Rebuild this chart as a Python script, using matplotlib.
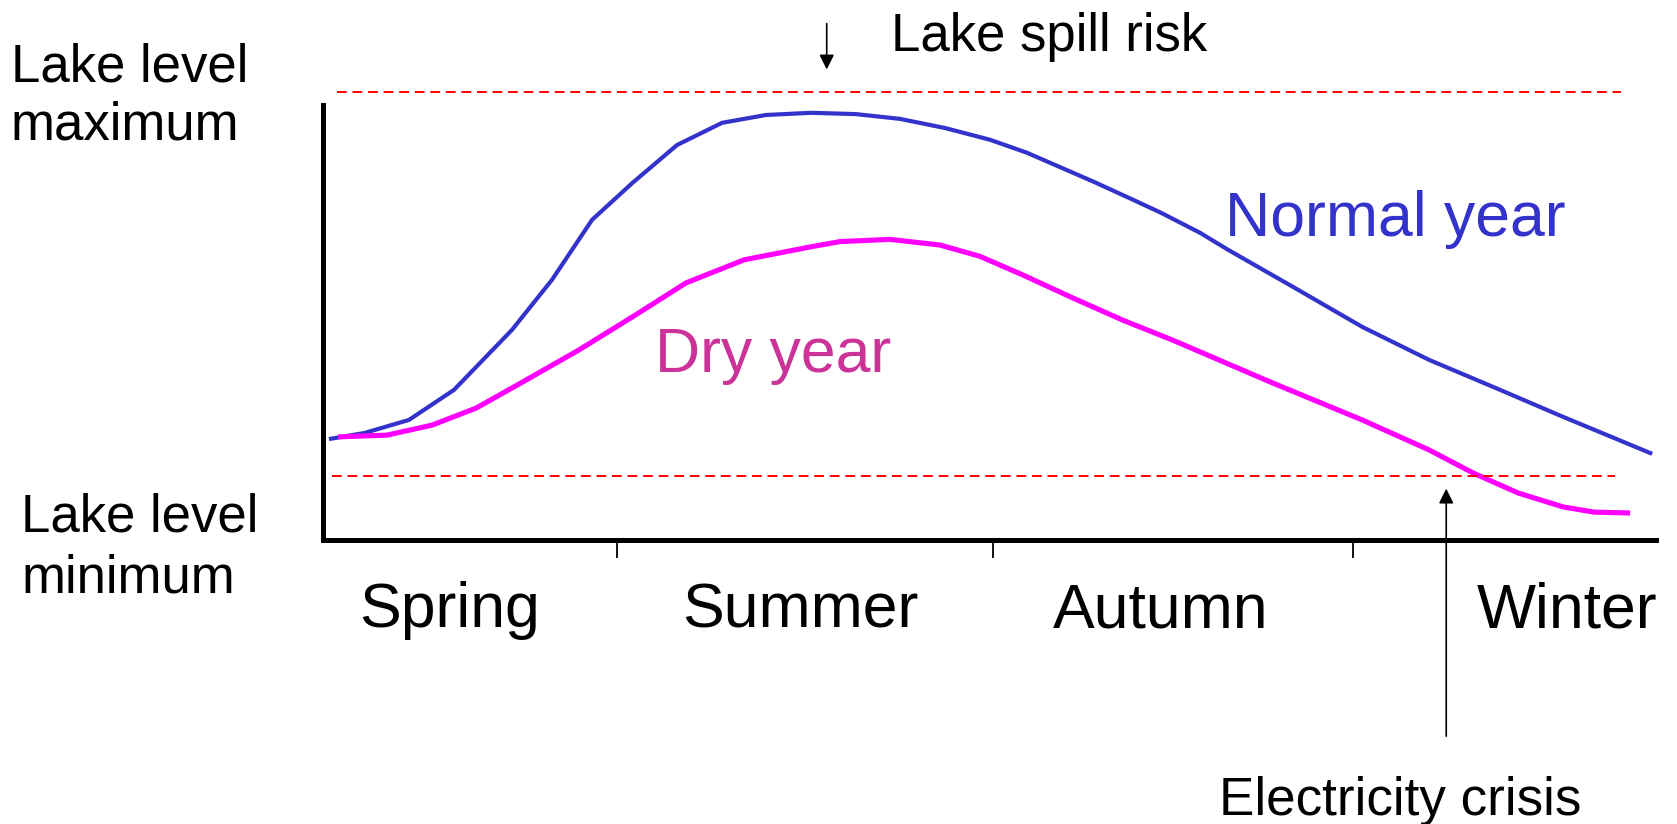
import matplotlib
matplotlib.use('Agg')
import matplotlib.pyplot as plt

plt.rcParams['font.family'] = ['Liberation Sans', 'DejaVu Sans']

# x in months from start of spring (0..12), y as fraction of lake range
normal_x = [0.054, 0.374, 0.774, 1.179, 1.701, 2.061, 2.422, 2.786, 3.187, 3.592,
            3.988, 4.393, 4.798, 5.194, 5.599, 6.004, 6.338, 6.941, 7.292, 7.544,
            7.895, 8.147, 8.750, 9.353, 9.956, 10.559, 11.162, 11.964]
normal_y = [0.232, 0.246, 0.276, 0.345, 0.483, 0.598, 0.736, 0.821, 0.908, 0.959,
            0.977, 0.982, 0.979, 0.968, 0.947, 0.920, 0.890, 0.823, 0.782, 0.752,
            0.706, 0.667, 0.579, 0.490, 0.414, 0.349, 0.283, 0.198]

dry_x = [0.135, 0.576, 0.981, 1.377, 1.782, 2.305, 2.786, 3.268, 3.790, 4.393,
         4.654, 5.104, 5.554, 5.914, 6.301, 6.752, 7.202, 7.652, 8.547, 9.353,
         9.956, 10.352, 10.757, 11.162, 11.441, 11.765]
dry_y = [0.237, 0.241, 0.264, 0.303, 0.361, 0.437, 0.513, 0.591, 0.644, 0.674,
         0.686, 0.691, 0.678, 0.652, 0.609, 0.556, 0.505, 0.459, 0.361, 0.276,
         0.207, 0.154, 0.108, 0.076, 0.064, 0.062]

level_max = 1.030
level_min = 0.147
season_bounds = [2.644, 6.03, 9.27]
season_centers = [1.14, 4.30, 7.54, 11.20]
season_names = ['Spring', 'Summer', 'Autumn', 'Winter']

fig = plt.figure(figsize=(16.77, 8.24), dpi=100)
ax = fig.add_axes([0.1926, 0.3447, 0.795, 0.5279])
ax.set_xlim(0, 12)
ax.set_ylim(0, 1)

ax.plot(normal_x, normal_y, color='#3333CC', lw=3.0, solid_capstyle='butt')
ax.plot(dry_x, dry_y, color='#FF00FF', lw=3.7, solid_capstyle='butt')

ax.plot([0.13, 11.68], [level_max, level_max], color='red', lw=1.4,
        dashes=(5, 3), clip_on=False)
ax.plot([0.08, 11.63], [level_min, level_min], color='red', lw=1.4,
        dashes=(5, 3), clip_on=False)

for side in ['top', 'right']:
    ax.spines[side].set_visible(False)
for side in ['left', 'bottom']:
    ax.spines[side].set_linewidth(3.6)
    ax.spines[side].set_capstyle('projecting')
ax.set_yticks([])
ax.set_xticks(season_bounds)
ax.set_xticklabels([])
ax.tick_params(axis='x', which='major', direction='out', length=13, width=1.3)

for name, xc in zip(season_names, season_centers):
    ax.text(xc, -0.163, name, ha='center', va='center', fontsize=45)

ax.text(-2.81, 1.0195, 'Lake level\nmaximum', ha='left', va='center',
        fontsize=38, linespacing=1.22)
ax.text(-2.715, -0.0184, 'Lake level\nminimum', ha='left', va='center',
        fontsize=38, linespacing=1.27)

ax.text(8.116, 0.737, 'Normal year', ha='left', va='center', fontsize=45, color='#3333CC')
ax.text(2.984, 0.4246, 'Dry year', ha='left', va='center', fontsize=45, color='#CC3399')

ax.annotate('', xy=(4.534, 1.0816), xytext=(4.534, 1.187), annotation_clip=False,
            arrowprops=dict(arrowstyle='-|>', color='black', lw=1.2,
                            mutation_scale=22, shrinkA=0, shrinkB=0))
ax.text(5.113, 1.157, 'Lake spill risk', ha='left', va='center', fontsize=38)

ax.annotate('', xy=(10.11, 0.118), xytext=(10.11, -0.451), annotation_clip=False,
            arrowprops=dict(arrowstyle='-|>', color='black', lw=1.2,
                            mutation_scale=22, shrinkA=0, shrinkB=0))
ax.text(8.066, -0.600, 'Electricity crisis', ha='left', va='center', fontsize=38.2)

fig.savefig('out.png', dpi=100)
